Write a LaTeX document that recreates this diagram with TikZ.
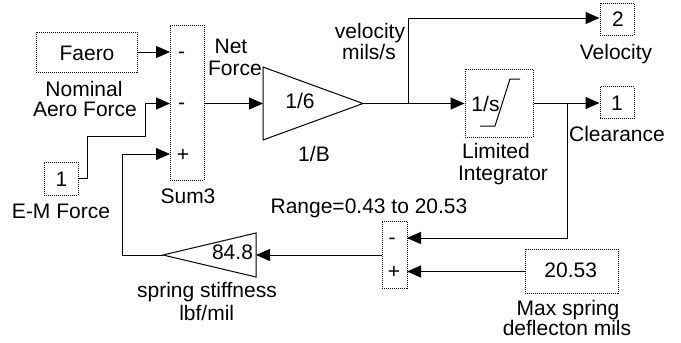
\documentclass[tikz,border=0pt]{standalone}
\usepackage{fontspec}
\setmainfont{Liberation Sans}
\usetikzlibrary{arrows.meta}
\newcommand\myfont{\fontsize{21}{21}\selectfont}
\begin{document}
\begin{tikzpicture}[x=1pt,y=-1pt,
  blk/.style={draw, line width=1pt, dash pattern=on 1pt off 1pt, inner sep=0, font=\myfont},
  wire/.style={line width=1pt, -{Triangle[length=14pt,width=12pt]}},
  plain/.style={line width=1pt},
  lab/.style={font=\myfont, inner sep=0, anchor=base},
  tri/.style={line width=1pt}]
\useasboundingbox (0,0) rectangle (681,343);

% blocks
\node[blk, minimum width=101, minimum height=40] (faero) at (86.5,52) {};
\node[lab] (tfaero) at (87,60) {Faero};
\node[lab] (lnom) at (84,96.7) {Nominal};
\node[lab] (laero) at (85,116.7) {Aero Force};

\node[blk, minimum width=34, minimum height=155] (sum3) at (187,102.5) {};
\node[lab] (m1) at (181.5,58) {-};
\node[lab] (m2) at (181.5,109) {-};
\node[lab] (p3) at (183,161) {+};
\node[lab] (lsum3) at (188,203.3) {Sum3};

\node[blk, minimum width=34, minimum height=33] (em) at (61,178.5) {};
\node[lab] (tem) at (61.5,186.5) {1};
\node[lab] (lem) at (61,218.3) {E-M Force};

% gain 1/6
\coordinate (gin) at (263,103.5);
\coordinate (gtip) at (363,103.5);
\draw[tri] (263,67) -- (gtip) -- (263,140) -- cycle;
\node[lab] (t16) at (300,108.3) {1/6};
\node[lab] (l1b) at (314,161.7) {1/B};
\node[lab] (lnet) at (231,53.3) {Net};
\node[lab] (lforce) at (235,75) {Force};
\node[lab] (lvel1) at (370,38) {velocity};
\node[lab] (lvel2) at (369,59.3) {mils/s};

% integrator
\node[blk, minimum width=68, minimum height=68] (integ) at (499,103) {};
\node[lab] (t1s) at (485.5,111.7) {1/s};
\draw[line width=1pt] (480,126) -- (495,126) -- (510,79) -- (520,79);
\node[lab] (llim) at (496,158.3) {Limited};
\node[lab] (lint) at (503,180) {Integrator};

% output ports
\node[blk, minimum width=34, minimum height=32] (velp) at (617,19) {};
\node[lab] (t2) at (618,26.7) {2};
\node[lab] (lvelp) at (616,59) {Velocity};
\node[blk, minimum width=34, minimum height=32] (clrp) at (617,102.5) {};
\node[lab] (t1c) at (617,110) {1};
\node[lab] (lclr) at (617,141.7) {Clearance};

% small sum
\node[blk, minimum width=25, minimum height=67] (sum2) at (394.5,254.5) {};
\node[lab] (m4) at (392,244) {-};
\node[lab] (p5) at (394,278.5) {+};
\node[lab] (lrange) at (369,213.3) {Range=0.43 to 20.53};

% constant
\node[blk, minimum width=93, minimum height=44] (cst) at (571.5,271) {};
\node[lab] (tcst) at (570.7,277.3) {20.53};
\node[lab] (lmax) at (568,315.7) {Max spring};
\node[lab] (ldef) at (567,335) {deflecton mils};

% spring gain
\coordinate (sin) at (256,255);
\coordinate (stip) at (163,255);
\draw[tri] (256,233) -- (256,277) -- (stip) -- cycle;
\node[lab] (t848) at (232.5,259.3) {84.8};
\node[lab] (lspr) at (207,297.7) {spring stiffness};
\node[lab] (llbf) at (206.7,320) {lbf/mil};

% port coordinates
\coordinate (s3a) at (170,52);
\coordinate (s3b) at (170,103.5);
\coordinate (s3c) at (170,154);
\coordinate (s3o) at (204,103.5);
\coordinate (bv) at (408,103.5);
\coordinate (bc) at (567,103);
\coordinate (s2a) at (407,238);
\coordinate (s2b) at (407,271.5);
\coordinate (s2o) at (382,255);

% wires
\draw[wire] (faero.east |- s3a) -- (s3a);
\draw[wire] (em.east) -- (87,178.5) -- (87,136) -- (145,136) -- (145,103.5) -- (s3b);
\draw[wire] (s3o) -- (gin);
\draw[plain] (gtip) -- (bv);
\draw[wire] (bv) -- (integ.west |- bv);
\draw[wire] (bv) -- (408,18) -- (velp.west |- 0,18);
\draw[plain] (integ.east |- bc) -- (bc);
\draw[wire] (bc) -- (clrp.west |- bc);
\draw[wire] (bc) -- (567,238) -- (s2a);
\draw[wire] (cst.west |- s2b) -- (s2b);
\draw[wire] (s2o) -- (sin);
\draw[wire] (stip) -- (122,255) -- (122,154) -- (s3c);
\end{tikzpicture}
\end{document}
